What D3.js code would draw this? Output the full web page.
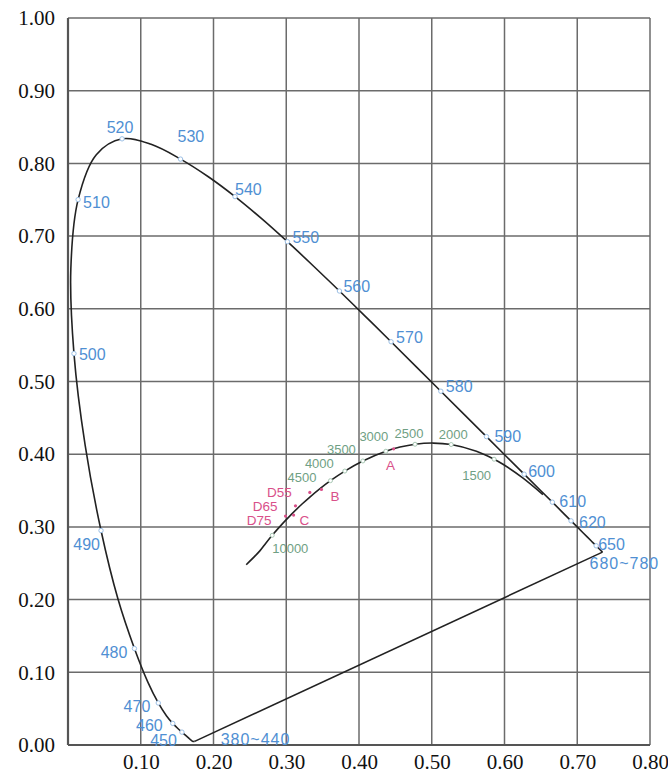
<!DOCTYPE html>
<html>
<head>
<meta charset="utf-8">
<script src="https://cdn.jsdelivr.net/npm/d3@7"></script>
<style>
  html, body { margin: 0; padding: 0; background: #fff; }
  svg { display: block; }
</style>
</head>
<body>
<svg id="chart" width="668" height="773"></svg>
<script>
// ---------- DATA ----------
const xTicks = [0.10, 0.20, 0.30, 0.40, 0.50, 0.60, 0.70, 0.80];
const yTicks = [0.00, 0.10, 0.20, 0.30, 0.40, 0.50, 0.60, 0.70, 0.80, 0.90, 1.00];

// spectral locus (nm, x, y)
const wavelengths = [380,385,390,395,400,405,410,415,420,425,430,435,440,445,450,455,460,465,470,475,480,485,490,495,500,505,510,515,520,525,530,535,540,545,550,555,560,565,570,575,580,585,590,595,600,605,610,615,620,625,630,635,640,645,650,655,660,665,670,680,690,700];
const locusX = [0.1741,0.1740,0.1738,0.1736,0.1733,0.1730,0.1726,0.1721,0.1714,0.1703,0.1689,0.1669,0.1644,0.1611,0.1566,0.1510,0.1440,0.1355,0.1241,0.1096,0.0913,0.0687,0.0454,0.0235,0.0082,0.0039,0.0139,0.0389,0.0743,0.1142,0.1547,0.1929,0.2296,0.2658,0.3016,0.3373,0.3731,0.4087,0.4441,0.4788,0.5125,0.5448,0.5752,0.6029,0.6270,0.6482,0.6658,0.6801,0.6915,0.7006,0.7079,0.7140,0.7190,0.7230,0.7260,0.7283,0.7300,0.7311,0.7320,0.7334,0.7344,0.7347];
const locusY = [0.0050,0.0050,0.0049,0.0049,0.0048,0.0048,0.0048,0.0048,0.0051,0.0058,0.0069,0.0086,0.0109,0.0138,0.0177,0.0227,0.0297,0.0399,0.0578,0.0868,0.1327,0.2007,0.2950,0.4127,0.5384,0.6548,0.7502,0.8120,0.8338,0.8262,0.8059,0.7816,0.7543,0.7243,0.6923,0.6589,0.6245,0.5896,0.5547,0.5202,0.4866,0.4544,0.4242,0.3965,0.3725,0.3514,0.3340,0.3197,0.3083,0.2993,0.2920,0.2859,0.2809,0.2770,0.2740,0.2717,0.2700,0.2689,0.2680,0.2666,0.2656,0.2653];

const markedWavelengths = [450,460,470,480,490,500,510,520,530,540,550,560,570,580,590,600,610,620,650];
const rangeLabels = ["380~440", "680~780"];

// Planckian locus (K, x, y)
const planckT = [1000,1200,1400,1500,1700,2000,2200,2500,2750,3000,3500,4000,4500,5000,5500,6000,7000,8000,10000,12000,15000,25000];
const planckX = [0.6528,0.6251,0.5985,0.5857,0.5614,0.5267,0.5019,0.4770,0.4564,0.4369,0.4053,0.3805,0.3608,0.3451,0.3325,0.3221,0.3064,0.2952,0.2807,0.2719,0.2637,0.2450];
const planckY = [0.3444,0.3674,0.3858,0.3931,0.4040,0.4133,0.4153,0.4137,0.4098,0.4041,0.3907,0.3768,0.3636,0.3516,0.3411,0.3318,0.3166,0.3048,0.2884,0.2776,0.2670,0.2480];
const labelledT = [1500,2000,2500,3000,3500,4000,4500,10000];

// standard illuminants
const illumNames = ["A","B","C","D55","D65","D75"];
const illumX = [0.4476,0.3484,0.3101,0.3324,0.3127,0.2990];
const illumY = [0.4074,0.3516,0.3162,0.3474,0.3290,0.3149];

// ---------- LAYOUT (label offsets in px) ----------
const wlLabelPos = {
  450:[-5,14,"end"], 460:[-10,8,"end"], 470:[-8,9,"end"], 480:[-7,9,"end"],
  490:[-1,19,"end"], 500:[5,6,"start"], 510:[5,8,"start"], 520:[-2,-6,"middle"],
  530:[-3,-17,"start"], 540:[0,-2,"start"], 550:[5,1,"start"], 560:[4,1,"start"],
  570:[5,1,"start"], 580:[5,1,"start"], 590:[8,5,"start"], 600:[4,3,"start"],
  610:[7,5,"start"], 620:[8,7,"start"], 650:[2,4,"start"]
};
const tLabelPos = {
  1500:[-3,21,"end"], 2000:[2,-6,"middle"], 2500:[-6,-6,"middle"], 3000:[-12,-10,"middle"],
  3500:[-7,-7,"end"], 4000:[-11,-3,"end"], 4500:[-14,1,"end"], 10000:[0,18,"start"]
};
const illumLabelPos = {
  A:[-3,21,"middle"], B:[9,12,"start"], C:[6,10,"start"],
  D55:[-18,5,"end"], D65:[-18,5,"end"], D75:[-14,9,"end"]
};

// ---------- CHART ----------
const svg = d3.select("#chart");
const x = d3.scaleLinear().domain([0, 0.8]).range([68, 650]);
const y = d3.scaleLinear().domain([0, 1]).range([745, 18]);

const blue = "#4f8fd3", green = "#6f9f84", pink = "#d9508a";
const gridColor = "#6b6b6b";
const sans = "'Liberation Sans', Arial, sans-serif";

// grid
const g = svg.append("g");
g.selectAll("line.vx").data(xTicks).join("line")
  .attr("x1", d => x(d)).attr("x2", d => x(d))
  .attr("y1", y(0)).attr("y2", y(1))
  .attr("stroke", gridColor).attr("stroke-width", 1.5);
g.selectAll("line.hy").data(yTicks).join("line")
  .attr("x1", x(0)).attr("x2", x(0.8))
  .attr("y1", d => y(d)).attr("y2", d => y(d))
  .attr("stroke", gridColor).attr("stroke-width", 1.5);
// frame left / bottom
g.append("line").attr("x1", x(0)).attr("x2", x(0)).attr("y1", y(0)).attr("y2", y(1))
  .attr("stroke", "#555").attr("stroke-width", 2.2);
g.append("line").attr("x1", x(0)).attr("x2", x(0.8)).attr("y1", y(0)).attr("y2", y(0))
  .attr("stroke", "#555").attr("stroke-width", 2.2);

// axes labels via d3 axis
const xAxis = d3.axisBottom(x).tickValues(xTicks).tickFormat(d3.format(".2f")).tickSize(0).tickPadding(9);
const yAxis = d3.axisLeft(y).tickValues(yTicks).tickFormat(d3.format(".2f")).tickSize(0).tickPadding(13);
const ax = svg.append("g").attr("transform", `translate(0,${y(0)})`).call(xAxis);
const ay = svg.append("g").attr("transform", `translate(${x(0)},0)`).call(yAxis);
[ax, ay].forEach(a => {
  a.select(".domain").remove();
  a.selectAll("text").attr("font-family", "'Liberation Serif', 'Times New Roman', serif")
    .attr("font-size", 21).attr("fill", "#111");
});

// spectral locus
const locus = wavelengths.map((w, i) => ({w, x: locusX[i], y: locusY[i]}));
svg.append("path").datum(locus)
  .attr("d", d3.line().x(d => x(d.x)).y(d => y(d.y)).curve(d3.curveCatmullRom))
  .attr("fill", "none").attr("stroke", "#222").attr("stroke-width", 1.6);
// purple line
svg.append("path").datum([locus[0], locus[locus.length - 1]])
  .attr("d", d3.line().x(d => x(d.x)).y(d => y(d.y)))
  .attr("fill", "none").attr("stroke", "#222").attr("stroke-width", 1.6);

// planckian locus
const planck = planckT.map((t, i) => ({t, x: planckX[i], y: planckY[i]}));
svg.append("path").datum(planck)
  .attr("d", d3.line().x(d => x(d.x)).y(d => y(d.y)).curve(d3.curveCatmullRom))
  .attr("fill", "none").attr("stroke", "#222").attr("stroke-width", 1.6);

// wavelength markers + labels
const marked = locus.filter(d => markedWavelengths.includes(d.w));
svg.selectAll("circle.wl").data(marked).join("circle")
  .attr("cx", d => x(d.x)).attr("cy", d => y(d.y)).attr("r", 2.2)
  .attr("fill", "#fff").attr("stroke", "#9cc0e6").attr("stroke-width", 1);
svg.selectAll("text.wl").data(marked).join("text")
  .attr("x", d => x(d.x) + wlLabelPos[d.w][0])
  .attr("y", d => y(d.y) + wlLabelPos[d.w][1])
  .attr("text-anchor", d => wlLabelPos[d.w][2])
  .attr("font-family", sans).attr("font-size", 16)
  .attr("fill", blue).text(d => d.w);
// range labels
const first = locus[0], last = locus[locus.length - 1];
svg.append("text").attr("x", x(first.x) + 26).attr("y", y(first.y) + 4)
  .attr("font-family", sans).attr("font-size", 16).attr("letter-spacing", 1)
  .attr("fill", blue).text(rangeLabels[0]);
svg.append("text").attr("x", x(last.x) - 13).attr("y", y(last.y) + 17)
  .attr("font-family", sans).attr("font-size", 16).attr("letter-spacing", 1)
  .attr("fill", blue).text(rangeLabels[1]);

// temperature markers + labels
const tl = planck.filter(d => labelledT.includes(d.t));
svg.selectAll("circle.t").data(tl).join("circle")
  .attr("cx", d => x(d.x)).attr("cy", d => y(d.y)).attr("r", 2)
  .attr("fill", "#fff").attr("stroke", "#a8c8b4").attr("stroke-width", 1);
svg.selectAll("text.t").data(tl).join("text")
  .attr("x", d => x(d.x) + tLabelPos[d.t][0])
  .attr("y", d => y(d.y) + tLabelPos[d.t][1])
  .attr("text-anchor", d => tLabelPos[d.t][2])
  .attr("font-family", sans).attr("font-size", 13)
  .attr("fill", green).text(d => d.t);

// illuminants
const ill = illumNames.map((n, i) => ({n, x: illumX[i], y: illumY[i]}));
svg.selectAll("circle.il").data(ill).join("circle")
  .attr("cx", d => x(d.x)).attr("cy", d => y(d.y)).attr("r", 1.6)
  .attr("fill", pink);
svg.selectAll("text.il").data(ill).join("text")
  .attr("x", d => x(d.x) + illumLabelPos[d.n][0])
  .attr("y", d => y(d.y) + illumLabelPos[d.n][1])
  .attr("text-anchor", d => illumLabelPos[d.n][2])
  .attr("font-family", sans).attr("font-size", 13.5)
  .attr("fill", pink).text(d => d.n);
</script>
</body>
</html>
